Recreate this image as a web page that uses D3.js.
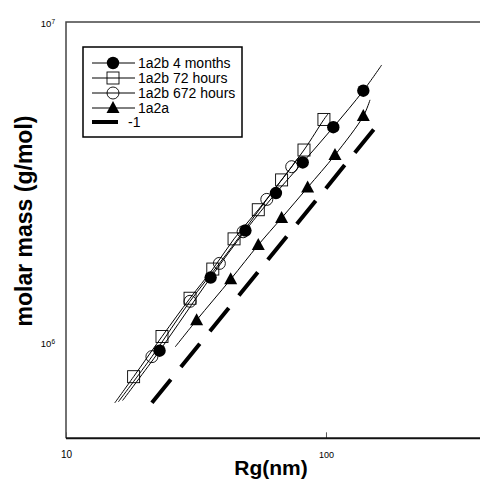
<!DOCTYPE html>
<html>
<head>
<meta charset="utf-8">
<script src="https://cdn.jsdelivr.net/npm/d3@7"></script>
<style>
  body { margin: 0; background: #fff; }
  svg { display: block; font-family: "Liberation Sans", Arial, sans-serif; }
</style>
</head>
<body>
<script>
'use strict';

// series values (Rg in nm, molar mass in g/mol)
const rg4mo = [22.9, 36.0, 49.0, 64.2, 81.4, 106.7, 139.2];
const mm4mo = [9.39e5, 1.59e6, 2.23e6, 2.92e6, 3.64e6, 4.69e6, 6.10e6];

const rg72h = [18.2, 23.4, 30.0, 36.7, 44.3, 54.9, 67.5, 82.3, 98.2];
const mm72h = [7.79e5, 1.04e6, 1.37e6, 1.69e6, 2.10e6, 2.59e6, 3.21e6, 3.98e6, 4.96e6];

const rg672h = [21.4, 30.0, 38.9, 48.0, 59.2, 73.8];
const mm672h = [9.0e5, 1.34e6, 1.76e6, 2.21e6, 2.79e6, 3.53e6];

const rg1a2a = [31.8, 43.0, 54.9, 67.5, 85.0, 108.3, 139.2];
const mm1a2a = [1.17e6, 1.57e6, 2.01e6, 2.44e6, 3.04e6, 3.84e6, 5.08e6];

// ends of the fitted curves
const fitRg4mo = [16.5, 163.8];
const fitMm4mo = [6.56e5, 7.34e6];
const fitRg72h = [15.4, 101.8];
const fitMm72h = [6.45e5, 5.16e6];
const fitRg672h = [15.9, 78.0];
const fitMm672h = [6.5e5, 3.76e6];
const fitRg1a2a = [26.3, 147.7];
const fitMm1a2a = [9.65e5, 5.71e6];

// the "-1" reference line
const refRg = [21.4, 161.3];
const refMm = [6.46e5, 4.88e6];

const legendLabels = ["1a2b 4 months", "1a2b 72 hours", "1a2b 672 hours", "1a2a", "-1"];
const xTicks = [10, 100];
const yTicks = [1e6, 1e7];

const width = 480, height = 486;

const svg = d3.select('body').append('svg')
  .attr('width', width)
  .attr('height', height);

const x = d3.scaleLog().domain([10, 400]).range([66, 482.5]);
const y = d3.scaleLog().domain([5e5, 1e7]).range([438.3, 22]);

// frame (right side runs off the picture)
svg.append('path')
  .attr('d', `M${width + 2},${y(1e7)}H${x(10)}V${y(5e5)}`)
  .attr('fill', 'none')
  .attr('stroke', '#444')
  .attr('stroke-width', 1.5);

// x axis
const xAxis = svg.append('g')
  .attr('transform', `translate(0,${y(5e5)})`)
  .call(d3.axisBottom(x).tickValues(xTicks).tickSize(-6).tickPadding(13)
    .tickFormat(d3.format('d')));
xAxis.select('.domain').remove();
xAxis.selectAll('line').attr('stroke', '#555');
xAxis.selectAll('text')
  .attr('fill', '#000')
  .style('font-family', '"Liberation Sans", Arial, sans-serif')
  .style('font-size', d => d === 100 ? '9px' : '10px');
svg.append('line')
  .attr('x1', x(10)).attr('x2', width + 2)
  .attr('y1', y(5e5)).attr('y2', y(5e5))
  .attr('stroke', '#111')
  .attr('stroke-width', 2);

// y axis labels as powers of ten
const yAxis = svg.append('g')
  .attr('transform', `translate(${x(10)},0)`)
  .call(d3.axisLeft(y).tickValues(yTicks).tickSize(0).tickPadding(11));
yAxis.select('.domain').remove();
yAxis.selectAll('text').each(function(d) {
  const t = d3.select(this)
    .text(null)
    .attr('fill', '#000')
    .attr('dy', '0.45em')
    .style('font-family', '"Liberation Sans", Arial, sans-serif')
    .style('font-size', '9.5px');
  t.append('tspan').text('10');
  t.append('tspan').attr('dy', '-0.5em').style('font-size', '6.5px')
    .text(Math.round(Math.log10(d)));
});

// axis titles
svg.append('text')
  .attr('x', 271)
  .attr('y', 475)
  .attr('text-anchor', 'middle')
  .style('font-size', '21px')
  .style('font-weight', 'bold')
  .text('Rg(nm)');

svg.append('text')
  .attr('transform', 'translate(32,221)rotate(-90)')
  .attr('text-anchor', 'middle')
  .style('font-size', '23px')
  .style('font-weight', 'bold')
  .text('molar mass (g/mol)');

// curves through the points
const curve = d3.line()
  .x(d => x(d[0]))
  .y(d => y(d[1]))
  .curve(d3.curveCatmullRom);

function fitPoints(fitRg, fitMm, rg, mm) {
  const pts = rg.map((r, i) => [r, mm[i]]);
  return [[fitRg[0], fitMm[0]]].concat(pts, [[fitRg[1], fitMm[1]]]);
}

const series = [
  { rg: rg4mo, mm: mm4mo, fr: fitRg4mo, fm: fitMm4mo, shape: 'dot' },
  { rg: rg72h, mm: mm72h, fr: fitRg72h, fm: fitMm72h, shape: 'square' },
  { rg: rg672h, mm: mm672h, fr: fitRg672h, fm: fitMm672h, shape: 'ring' },
  { rg: rg1a2a, mm: mm1a2a, fr: fitRg1a2a, fm: fitMm1a2a, shape: 'triangle' }
];

series.forEach(s => {
  svg.append('path')
    .datum(fitPoints(s.fr, s.fm, s.rg, s.mm))
    .attr('d', curve)
    .attr('fill', 'none')
    .attr('stroke', '#000')
    .attr('stroke-width', 1);
});

svg.append('path')
  .datum(refRg.map((r, i) => [r, refMm[i]]))
  .attr('d', d3.line().x(d => x(d[0])).y(d => y(d[1])))
  .attr('fill', 'none')
  .attr('stroke', '#000')
  .attr('stroke-width', 4)
  .attr('stroke-dasharray', '30,16');

// draw one marker at px, py
function marker(g, shape, px, py) {
  if (shape === 'dot') {
    g.append('circle').attr('cx', px).attr('cy', py).attr('r', 6.2)
      .attr('fill', '#000');
  } else if (shape === 'ring') {
    g.append('circle').attr('cx', px).attr('cy', py).attr('r', 6)
      .attr('fill', 'none').attr('stroke', '#000').attr('stroke-width', 0.9);
  } else if (shape === 'square') {
    g.append('rect').attr('x', px - 6).attr('y', py - 6)
      .attr('width', 12).attr('height', 12)
      .attr('fill', 'none').attr('stroke', '#000').attr('stroke-width', 0.9);
  } else if (shape === 'triangle') {
    g.append('path')
      .attr('d', `M${px},${py - 7}L${px + 6.5},${py + 5}L${px - 6.5},${py + 5}Z`)
      .attr('fill', '#000');
  }
}

const marks = svg.append('g');
series.forEach(s => {
  s.rg.forEach((r, i) => marker(marks, s.shape, x(r), y(s.mm[i])));
});

// legend
const legend = svg.append('g');
legend.append('rect')
  .attr('x', 83).attr('y', 47)
  .attr('width', 159).attr('height', 90)
  .attr('fill', '#fff')
  .attr('stroke', '#000')
  .attr('stroke-width', 1.5);

const rowY = [63, 78, 93, 108, 122];
legendLabels.forEach((label, i) => {
  const cy = rowY[i];
  if (i < 4) {
    legend.append('line')
      .attr('x1', 92).attr('x2', 135)
      .attr('y1', cy).attr('y2', cy)
      .attr('stroke', '#000').attr('stroke-width', 1);
    marker(legend, series[i].shape, 113, cy);
  } else {
    legend.append('line')
      .attr('x1', 92).attr('x2', 118)
      .attr('y1', cy).attr('y2', cy)
      .attr('stroke', '#000').attr('stroke-width', 4);
  }
  legend.append('text')
    .attr('x', i < 4 ? 138 : 128)
    .attr('y', cy + 5)
    .style('font-size', '14px')
    .text(label);
});
</script>
</body>
</html>
